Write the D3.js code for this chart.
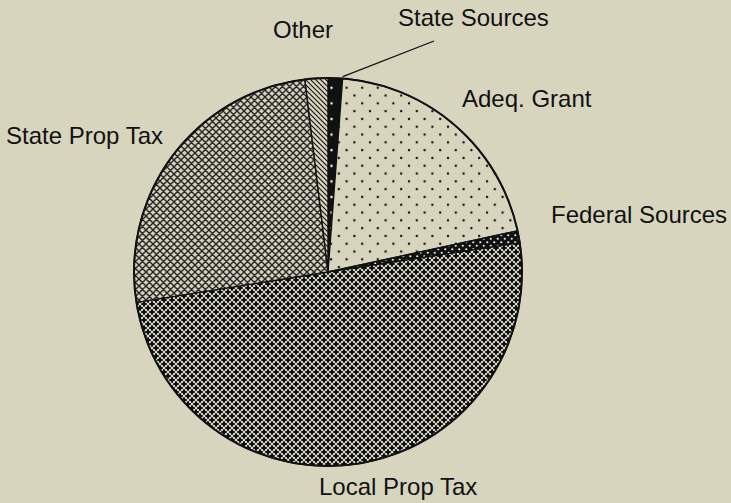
<!DOCTYPE html>
<html>
<head>
<meta charset="utf-8">
<script src="https://cdn.jsdelivr.net/npm/d3@7"></script>
<style>
  body { margin: 0; background: #d8d5bf; }
  svg { display: block; }
  text { font-family: "Liberation Sans", Arial, sans-serif; font-size: 24px; fill: #111; }
</style>
</head>
<body>
<svg id="pie" width="731" height="503"></svg>
<script>
const width = 731, height = 503;
const bg = "#d8d5bf";

// slices, clockwise from 12 o'clock (percent of revenue)
const labels = ["State Sources", "Adeq. Grant", "Federal Sources", "Local Prop Tax", "State Prop Tax", "Other"];
const values = [1.2, 20.4, 1.0, 49.9, 25.6, 1.9];
const fills = ["url(#blackDots)", "url(#dots)", "url(#denseDots)", "url(#crosses)", "url(#xhatch)", "url(#hatch)"];

// label placement (left x, baseline y)
const labelPos = [[398, 26], [462, 107], [551, 223], [319, 495], [6, 144], [273, 38]];

const cx = 328, cy = 272, r = 194;

const svg = d3.select("#pie");
svg.append("rect").attr("width", width).attr("height", height).attr("fill", bg);

const defs = svg.append("defs");

// sparse dots on light ground
let p = defs.append("pattern").attr("id", "dots").attr("patternUnits", "userSpaceOnUse")
  .attr("width", 15.6).attr("height", 15.6);
p.append("rect").attr("width", 15.6).attr("height", 15.6).attr("fill", bg);
p.append("circle").attr("cx", 3).attr("cy", 3).attr("r", 1.2).attr("fill", "#111");
p.append("circle").attr("cx", 10.8).attr("cy", 10.8).attr("r", 1.2).attr("fill", "#111");

// same dots reversed
p = defs.append("pattern").attr("id", "blackDots").attr("patternUnits", "userSpaceOnUse")
  .attr("width", 15.6).attr("height", 15.6);
p.append("rect").attr("width", 15.6).attr("height", 15.6).attr("fill", "#111");
p.append("circle").attr("cx", 3.5).attr("cy", 3).attr("r", 1.3).attr("fill", "#eee");

// dense white dots on black
p = defs.append("pattern").attr("id", "denseDots").attr("patternUnits", "userSpaceOnUse")
  .attr("width", 7).attr("height", 7);
p.append("rect").attr("width", 7).attr("height", 7).attr("fill", "#111");
p.append("circle").attr("cx", 1.75).attr("cy", 1.75).attr("r", 1.1).attr("fill", "#eee");
p.append("circle").attr("cx", 5.25).attr("cy", 5.25).attr("r", 1.1).attr("fill", "#eee");

// dark crosses (local prop tax)
p = defs.append("pattern").attr("id", "crosses").attr("patternUnits", "userSpaceOnUse")
  .attr("width", 8).attr("height", 8);
p.append("rect").attr("width", 8).attr("height", 8).attr("fill", "#e4e2d2");
[[0, 0], [8, 0], [0, 8], [8, 8], [4, 4]].forEach(([x, y]) => {
  p.append("path")
    .attr("d", `M${x - 2.8},${y}H${x + 2.8}M${x},${y - 2.8}V${y + 2.8}`)
    .attr("stroke", "#0d0d0d").attr("stroke-width", 2.2);
});

// diagonal cross-hatch (state prop tax)
p = defs.append("pattern").attr("id", "xhatch").attr("patternUnits", "userSpaceOnUse")
  .attr("width", 7).attr("height", 7);
p.append("rect").attr("width", 7).attr("height", 7).attr("fill", "#d2cfbb");
p.append("path").attr("d", "M0,0L7,7M7,0L0,7M-1,6L1,8M6,-1L8,1M-1,1L1,-1M6,8L8,6")
  .attr("stroke", "#262626").attr("stroke-width", 1.4);

// single diagonal hatch (other)
p = defs.append("pattern").attr("id", "hatch").attr("patternUnits", "userSpaceOnUse")
  .attr("width", 5).attr("height", 5);
p.append("rect").attr("width", 5).attr("height", 5).attr("fill", bg);
p.append("path").attr("d", "M0,0L5,5M-1,4L1,6M4,-1L6,1")
  .attr("stroke", "#111").attr("stroke-width", 1.1);

const pie = d3.pie().sort(null).value(d => d)(values);
const arc = d3.arc().innerRadius(0).outerRadius(r);

const g = svg.append("g").attr("transform", `translate(${cx},${cy})`);

g.selectAll("path.slice")
  .data(pie)
  .join("path")
  .attr("class", "slice")
  .attr("d", arc)
  .attr("fill", (d, i) => fills[i])
  .attr("stroke", "#111")
  .attr("stroke-width", 1.4)
  .attr("stroke-linejoin", "round");

g.append("circle").attr("r", r).attr("fill", "none")
  .attr("stroke", "#111").attr("stroke-width", 2);

// leader line for the thin state sources slice
const ss = pie[0];
const a = ss.endAngle;
svg.append("line")
  .attr("x1", cx + (r + 2) * Math.sin(a))
  .attr("y1", cy - (r + 2) * Math.cos(a))
  .attr("x2", 434).attr("y2", 41)
  .attr("stroke", "#111").attr("stroke-width", 1.3);

svg.selectAll("text.lbl")
  .data(labels)
  .join("text")
  .attr("class", "lbl")
  .attr("x", (d, i) => labelPos[i][0])
  .attr("y", (d, i) => labelPos[i][1])
  .text(d => d);
</script>
</body>
</html>
